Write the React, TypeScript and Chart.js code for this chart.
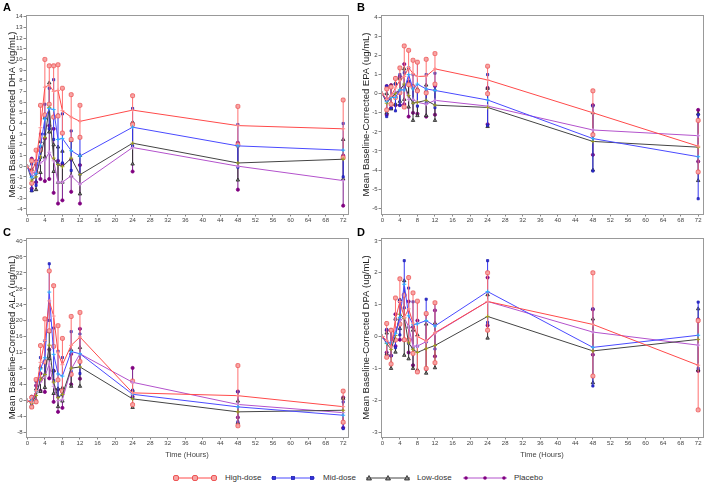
import React, { useEffect, useRef } from "react";
import { Chart, registerables } from "chart.js";
Chart.register(...registerables);

const FONT = "'Liberation Sans', Arial, sans-serif";

const TIMES = [0, 1, 2, 3, 4, 5, 6, 7, 8, 10, 12, 24, 48, 72];
const X_TICKS = [0, 4, 8, 12, 16, 20, 24, 28, 32, 36, 40, 44, 48, 52, 56, 60, 64, 68, 72];
const SERIES_NAMES = ["High-dose", "Mid-dose", "Low-dose", "Placebo"];

// Panel A: DHA
const DHA_Y_TICKS = [-4, -3, -2, -1, 0, 1, 2, 3, 4, 5, 6, 7, 8, 9, 10, 11, 12, 13, 14];
const DHA_HIGH_MEAN = [0, -0.55, 0.45, 3.6, 7.4, 7.6, 7.0, 7.1, 5.2, 4.6, 4.2, 5.25, 3.8, 3.5];
const DHA_HIGH_SD = [0, 1.05, 1.05, 2.1, 2.6, 1.8, 2.4, 2.4, 2.1, 2.1, 1.5, 1.35, 1.8, 2.7];
const DHA_MID_MEAN = [0, -1.05, -0.7, 1.9, 4.4, 5.4, 5.3, 2.5, 2.6, 1.45, 0.95, 3.65, 1.9, 1.5];
const DHA_MID_SD = [0, 1.25, 1.1, 1.1, 1.4, 1.9, 2.8, 2.3, 2.3, 1.85, 1.75, 1.75, 2.0, 2.5];
const DHA_LOW_MEAN = [0, -1.3, -1.0, 0.85, 2.7, 5.5, 0.75, 0.15, -0.05, 0.75, -0.8, 2.15, 0.3, 0.65];
const DHA_LOW_SD = [0, 1.0, 1.2, 1.45, 1.85, 2.3, 1.25, 1.65, 1.45, 1.65, 1.8, 1.95, 1.6, 1.85];
const DHA_PBO_MEAN = [0, -0.7, -0.5, 0.3, 0.6, 1.3, 0.5, -1.5, -1.5, -0.9, -1.7, 1.75, 0.0, -1.35];
const DHA_PBO_SD = [0, 1.4, 1.0, 1.5, 2.0, 2.5, 3.0, 2.0, 1.7, 1.5, 1.8, 2.25, 2.2, 2.35];

// Panel B: EPA
const EPA_Y_TICKS = [-6, -5, -4, -3, -2, -1, 0, 1, 2, 3, 4];
const EPA_HIGH_MEAN = [0, -0.3, -0.1, 0.3, 0.7, 0.9, 1.37, 1.05, 0.9, 0.92, 1.3, 0.72, -1.0, -2.75];
const EPA_HIGH_SD = [0, 0.55, 0.45, 0.5, 0.65, 1.6, 0.9, 0.7, 0.75, 0.88, 0.8, 0.72, 1.15, 1.35];
const EPA_MID_MEAN = [0, -0.4, -0.2, -0.2, 0.2, 0.2, 1.0, 0.25, 0.5, 0.25, 0.17, -0.33, -2.35, -3.3];
const EPA_MID_SD = [0, 0.8, 0.55, 0.7, 0.8, 0.9, 0.35, 0.75, 1.15, 0.75, 0.9, 1.33, 1.7, 2.2];
const EPA_LOW_MEAN = [0, -0.5, -0.2, 0.0, 0.2, 0.5, -0.1, -0.5, -0.45, -0.35, -0.6, -0.72, -2.5, -2.8];
const EPA_LOW_SD = [0, 0.5, 0.6, 0.55, 0.6, 0.8, 0.6, 0.9, 0.7, 0.8, 0.8, 1.0, 1.5, 1.75];
const EPA_PBO_MEAN = [0, -0.35, -0.15, 0.1, 0.15, 0.5, -0.3, -0.3, -0.45, -0.55, -0.35, -0.65, -1.9, -2.2];
const EPA_PBO_SD = [0, 0.75, 0.6, 0.7, 0.75, 1.05, 0.9, 0.7, 0.6, 0.65, 0.75, 0.95, 1.3, 1.35];

// Panel C: ALA
const ALA_Y_TICKS = [-8, -4, 0, 4, 8, 12, 16, 20, 24, 28, 32, 36, 40];
const ALA_HIGH_MEAN = [0, -0.4, 2.5, 9.6, 15.1, 25.0, 21.2, 12.0, 9.0, 13.85, 15.95, 1.95, 1.25, -1.5];
const ALA_HIGH_SD = [0, 1.2, 2.8, 4.2, 5.4, 7.5, 7.6, 6.8, 6.6, 7.25, 6.15, 2.95, 7.55, 3.9];
const ALA_MID_MEAN = [0, 0.0, 2.4, 7.9, 10.75, 27.2, 11.6, 6.7, 6.15, 12.3, 11.75, 1.6, -1.55, -3.65];
const ALA_MID_SD = [0, 0.9, 2.4, 2.9, 4.25, 7.1, 6.6, 5.7, 4.65, 5.0, 4.95, 1.0, 3.75, 3.35];
const ALA_LOW_MEAN = [0, -0.65, 1.3, 5.35, 6.55, 13.9, 4.65, 0.75, 1.55, 8.15, 8.45, 0.45, -2.8, -2.4];
const ALA_LOW_SD = [0, 0.95, 1.6, 3.05, 3.25, 3.4, 2.85, 2.25, 1.65, 4.55, 4.85, 2.15, 2.7, 3.0];
const ALA_PBO_MEAN = [0, -0.2, 1.75, 4.65, 6.0, 9.2, 3.6, 0.0, 0.25, 7.9, 11.75, 4.6, -0.95, -3.0];
const ALA_PBO_SD = [0, 1.2, 2.05, 2.15, 3.8, 3.6, 3.9, 2.8, 2.05, 3.8, 6.25, 3.6, 3.25, 3.8];

// Panel D: DPA
const DPA_Y_TICKS = [-3, -2, -1, 0, 1, 2, 3];
const DPA_HIGH_MEAN = [0, -0.12, -0.33, 0.55, 1.1, 0.6, 0.87, 0.42, 0.0, -0.14, 0.12, 1.1, 0.38, -0.9];
const DPA_HIGH_SD = [0, 0.53, 0.53, 0.66, 0.71, 0.7, 0.98, 0.95, 1.11, 0.86, 0.94, 0.9, 1.62, 1.4];
const DPA_MID_MEAN = [0, -0.2, -0.2, 0.1, 0.6, 1.64, 0.65, 0.37, 0.4, 0.5, 0.33, 1.41, -0.34, 0.04];
const DPA_MID_SD = [0, 0.42, 0.4, 0.45, 0.55, 0.74, 0.87, 0.72, 0.7, 0.67, 0.72, 0.97, 1.21, 1.04];
const DPA_LOW_MEAN = [0, -0.22, -0.4, 0.03, 0.7, 0.58, -0.2, -0.4, -0.5, -0.38, -0.28, 0.63, -0.45, -0.09];
const DPA_LOW_SD = [0, 0.33, 0.6, 0.52, 0.45, 1.17, 0.5, 0.6, 0.55, 0.77, 0.7, 0.68, 1.0, 0.96];
const DPA_PBO_MEAN = [0, -0.15, -0.2, 0.2, 0.5, 0.6, 0.3, -0.3, -0.3, -0.16, 0.1, 1.1, 0.14, -0.27];
const DPA_PBO_SD = [0, 0.35, 0.4, 0.5, 0.6, 0.7, 0.8, 0.6, 0.8, 0.86, 0.72, 0.75, 0.71, 0.81];

const STYLES = [
  { line: "#ff4a4a", bar: "#ff7070", cap: "rectRounded", capR: 2.3, capFill: "#f7a4a4", capBorder: "#ee5555", mean: "#ff9090" },
  { line: "#4a4aff", bar: "#3535f0", cap: "rect", capR: 1.5, capFill: "#3030e0", capBorder: "#2020b0", mean: "#30b0ff" },
  { line: "#444444", bar: "#333333", cap: "triangle", capR: 2, capFill: "#888888", capBorder: "#222222", mean: "#a0a020" },
  { line: "#b352cc", bar: "#7a1a8a", cap: "circle", capR: 1.6, capFill: "#800080", capBorder: "#800080", mean: "#d090e0" },
];

const PANELS = [
  {
    letter: "A", yTitle: "Mean Baseline-Corrected DHA (ug/mL)", yTicks: DHA_Y_TICKS, yMin: -4.48, yMax: 14.16, xTitle: false,
    series: [[DHA_HIGH_MEAN, DHA_HIGH_SD], [DHA_MID_MEAN, DHA_MID_SD], [DHA_LOW_MEAN, DHA_LOW_SD], [DHA_PBO_MEAN, DHA_PBO_SD]],
    box: { left: 0, top: 0, w: 354, h: 230 }, area: { l: 26, t: 15, r: 348, b: 214 },
  },
  {
    letter: "B", yTitle: "Mean Baseline-Corrected EPA (ug/mL)", yTicks: EPA_Y_TICKS, yMin: -6.3, yMax: 4.12, xTitle: false,
    series: [[EPA_HIGH_MEAN, EPA_HIGH_SD], [EPA_MID_MEAN, EPA_MID_SD], [EPA_LOW_MEAN, EPA_LOW_SD], [EPA_PBO_MEAN, EPA_PBO_SD]],
    box: { left: 354, top: 0, w: 354, h: 230 }, area: { l: 27, t: 15, r: 350, b: 214 },
  },
  {
    letter: "C", yTitle: "Mean Baseline-Corrected ALA (ug/mL)", yTicks: ALA_Y_TICKS, yMin: -9.1, yMax: 40.75, xTitle: true,
    series: [[ALA_HIGH_MEAN, ALA_HIGH_SD], [ALA_MID_MEAN, ALA_MID_SD], [ALA_LOW_MEAN, ALA_LOW_SD], [ALA_PBO_MEAN, ALA_PBO_SD]],
    box: { left: 0, top: 225, w: 354, h: 240 }, area: { l: 26, t: 13, r: 348, b: 212 },
  },
  {
    letter: "D", yTitle: "Mean Baseline-Corrected DPA (ug/mL)", yTicks: DPA_Y_TICKS, yMin: -3.15, yMax: 3.09, xTitle: true,
    series: [[DPA_HIGH_MEAN, DPA_HIGH_SD], [DPA_MID_MEAN, DPA_MID_SD], [DPA_LOW_MEAN, DPA_LOW_SD], [DPA_PBO_MEAN, DPA_PBO_SD]],
    box: { left: 354, top: 225, w: 354, h: 240 }, area: { l: 27, t: 13, r: 349, b: 212 },
  },
];

const framePlugin = {
  id: "frame",
  afterDatasetsDraw(chart: any) {
    const { ctx, chartArea: a } = chart;
    ctx.save();
    ctx.strokeStyle = "#999999";
    ctx.lineWidth = 1;
    ctx.strokeRect(Math.round(a.left) + 0.5, Math.round(a.top) + 0.5, Math.round(a.right - a.left), Math.round(a.bottom - a.top));
    ctx.restore();
  },
};

function buildDatasets(series: any[]) {
  const ds: any[] = [];
  series.forEach(([mean, sd]: number[][], k: number) => {
    const st = STYLES[k];
    const bars: any[] = [];
    TIMES.forEach((t, i) => {
      if (sd[i] > 0) {
        bars.push({ x: t, y: mean[i] - sd[i] });
        bars.push({ x: t, y: mean[i] + sd[i] });
        bars.push({ x: t, y: null });
      }
    });
    ds.push({
      label: SERIES_NAMES[k] + " SD",
      data: bars,
      borderColor: st.bar,
      borderWidth: 1,
      pointStyle: st.cap,
      pointRadius: st.capR,
      pointBackgroundColor: st.capFill,
      pointBorderColor: st.capBorder,
      pointBorderWidth: 0.8,
      spanGaps: false,
      order: 10 + k,
    });
    ds.push({
      label: SERIES_NAMES[k],
      data: TIMES.map((t, i) => ({ x: t, y: mean[i] })),
      borderColor: st.line,
      borderWidth: 1,
      pointStyle: "cross",
      pointRadius: 2,
      pointBorderColor: st.mean,
      pointBorderWidth: 1,
      tension: 0,
      order: k,
    });
  });
  return ds;
}

function Panel({ p }: { p: any }) {
  const ref = useRef<HTMLCanvasElement>(null);
  useEffect(() => {
    const { box, area } = p;
    const chart = new Chart(ref.current as HTMLCanvasElement, {
      type: "line",
      data: { datasets: buildDatasets(p.series) },
      options: {
        responsive: false,
        maintainAspectRatio: false,
        animation: false,
        layout: { padding: { left: 0, top: area.t, right: box.w - area.r, bottom: 0 } },
        plugins: { legend: { display: false }, tooltip: { enabled: false } },
        scales: {
          x: {
            type: "linear",
            min: -0.3,
            max: 73.1,
            afterBuildTicks: (s: any) => { s.ticks = X_TICKS.map((v) => ({ value: v })); },
            afterFit: (s: any) => { s.height = box.h - area.b; },
            ticks: { font: { size: 6, family: FONT }, color: "#444", padding: 0, maxRotation: 0, autoSkip: false },
            grid: { drawOnChartArea: false, tickLength: 2.5, color: "#888" },
            border: { display: false },
            title: { display: p.xTitle, text: "Time (Hours)", font: { size: 7.5, family: FONT }, color: "#444", padding: { top: 0, bottom: 5.5 } },
          },
          y: {
            type: "linear",
            min: p.yMin,
            max: p.yMax,
            afterBuildTicks: (s: any) => { s.ticks = p.yTicks.map((v: number) => ({ value: v })); },
            afterFit: (s: any) => { s.width = area.l; },
            ticks: { font: { size: 6, family: FONT }, color: "#444", padding: 1, autoSkip: false },
            grid: { drawOnChartArea: false, tickLength: 2.5, color: "#888" },
            border: { display: false },
            title: { display: true, text: p.yTitle, font: { size: 9.5, family: FONT }, color: "#222", padding: { top: 6.3, bottom: 0 } },
          },
        },
      },
      plugins: [framePlugin],
    } as any);
    return () => chart.destroy();
  }, [p]);
  return (
    <div style={{ position: "absolute", left: p.box.left, top: p.box.top, width: p.box.w, height: p.box.h }}>
      <canvas ref={ref} width={p.box.w} height={p.box.h} style={{ width: p.box.w, height: p.box.h, display: "block" }} />
      <div style={{ position: "absolute", left: 3, top: 1, fontFamily: FONT, fontWeight: "bold", fontSize: 11, color: "#000" }}>{p.letter}</div>
    </div>
  );
}

function LegendSymbol({ k }: { k: number }) {
  const st = STYLES[k];
  const xs = [3, 22, 41];
  return (
    <svg width={44} height={8} style={{ display: "block" }}>
      <line x1={0} y1={4} x2={44} y2={4} stroke={st.line} strokeWidth={1} />
      {xs.map((x, i) => {
        if (k === 0) return <rect key={i} x={x - 2.5} y={1.5} width={5} height={5} rx={1.5} fill={st.capFill} stroke={st.capBorder} strokeWidth={1} />;
        if (k === 1) return <rect key={i} x={x - 1.5} y={2.5} width={3} height={3} fill={st.capFill} stroke={st.capBorder} strokeWidth={0.8} />;
        if (k === 2) return <polygon key={i} points={`${x},1.5 ${x + 2.5},6 ${x - 2.5},6`} fill={st.capFill} stroke={st.capBorder} strokeWidth={0.8} />;
        return <circle key={i} cx={x} cy={4} r={1.8} fill={st.capFill} />;
      })}
    </svg>
  );
}

const LEGEND_POS = [
  { sym: 173, text: 225 },
  { sym: 271, text: 323 },
  { sym: 366, text: 417 },
  { sym: 463, text: 514 },
];

export default function App() {
  useEffect(() => { document.body.style.margin = "0"; }, []);
  return (
    <div style={{ position: "absolute", left: 0, top: 0, width: 708, height: 485, background: "#fff", overflow: "hidden" }}>
      {PANELS.map((p) => <Panel key={p.letter} p={p} />)}
      {SERIES_NAMES.map((name, k) => (
        <React.Fragment key={name}>
          <div style={{ position: "absolute", left: LEGEND_POS[k].sym, top: 474 }}><LegendSymbol k={k} /></div>
          <div style={{ position: "absolute", left: LEGEND_POS[k].text, top: 472, fontFamily: FONT, fontSize: 8, color: "#333", lineHeight: "12px" }}>{name}</div>
        </React.Fragment>
      ))}
    </div>
  );
}
